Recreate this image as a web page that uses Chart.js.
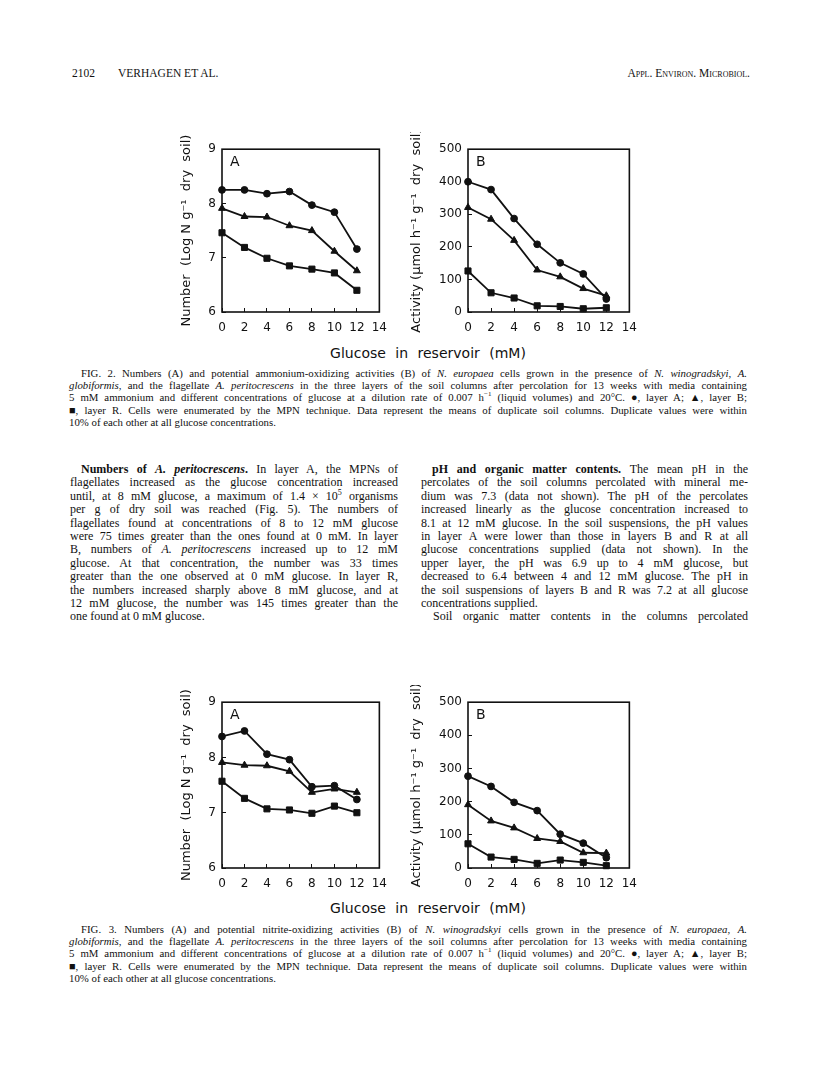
<!DOCTYPE html>
<html lang="en">
<head>
<meta charset="UTF-8">
<title>Verhagen et al. - Fig. 2 and Fig. 3</title>
<script src="https://cdn.jsdelivr.net/npm/chart.js@4.4.0/dist/chart.umd.min.js"></script>
<style>
    html, body { margin: 0; padding: 0; background: #fff; }
    body { width: 816px; height: 1077px; position: relative; overflow: hidden; color: #111; }
    .abs { position: absolute; }
    .serif { font-family: 'Liberation Serif', 'Times New Roman', serif; }
    .hdr { font-size: 11.5px; line-height: 14px; top: 66px; white-space: nowrap; }
    .cap { left: 69px; width: 678px; font-size: 10.8px; line-height: 12.2px; }
    .cap .ln { height: 12.2px; }
    .col { width: 328px; font-size: 12px; line-height: 13.4px; top: 463px; }
    .col .ln { height: 13.4px; }
    .ln { white-space: nowrap; }
    sup { line-height: 0; }
    .glu { left: 228px; width: 400px; text-align: center; font-family: 'DejaVu Sans', sans-serif;
           font-size: 14px; line-height: 18px; word-spacing: 5px; color: #111; }
    canvas { position: absolute; }
</style>
</head>
<body>
    <!-- running head -->
    <div class="abs serif hdr" style="left:72px">2102</div>
    <div class="abs serif hdr" style="left:118px">VERHAGEN ET AL.</div>
    <div class="abs serif hdr" style="right:66px; font-variant: small-caps">Appl. Environ. Microbiol.</div>

    <!-- fig 2 -->
    <canvas id="f2a" width="240" height="210" style="left:160px; top:132px"></canvas>
    <canvas id="f2b" width="250" height="210" style="left:400px; top:132px"></canvas>
    <div class="abs glu" style="top:344px">Glucose in reservoir (mM)</div>

    <div class="abs serif cap" style="top:367px">
        <div class="ln j" style="padding-left:12px"><span>FIG. 2. Numbers (A) and potential ammonium-oxidizing activities (B) of <i>N. europaea</i> cells grown in the presence of <i>N. winogradskyi</i>, <i>A.</i></span></div>
        <div class="ln j"><span><i>globiformis</i>, and the flagellate <i>A. peritocrescens</i> in the three layers of the soil columns after percolation for 13 weeks with media containing</span></div>
        <div class="ln j"><span>5 mM ammonium and different concentrations of glucose at a dilution rate of 0.007 h<sup style="font-size:7px">−1</sup> (liquid volumes) and 20°C. ●, layer A; ▲, layer B;</span></div>
        <div class="ln j"><span>■, layer R. Cells were enumerated by the MPN technique. Data represent the means of duplicate soil columns. Duplicate values were within</span></div>
        <div class="ln"><span>10% of each other at all glucose concentrations.</span></div>
    </div>

    <!-- texto en dos columnas -->
    <div class="abs serif col" style="left:70px">
        <div class="ln j" style="padding-left:11px"><span><b>Numbers of <i>A. peritocrescens</i>.</b> In layer A, the MPNs of</span></div>
        <div class="ln j"><span>flagellates increased as the glucose concentration increased</span></div>
        <div class="ln j"><span>until, at 8 mM glucose, a maximum of 1.4 × 10<sup style="font-size:8px">5</sup> organisms</span></div>
        <div class="ln j"><span>per g of dry soil was reached (Fig. 5). The numbers of</span></div>
        <div class="ln j"><span>flagellates found at concentrations of 8 to 12 mM glucose</span></div>
        <div class="ln j"><span>were 75 times greater than the ones found at 0 mM. In layer</span></div>
        <div class="ln j"><span>B, numbers of <i>A. peritocrescens</i> increased up to 12 mM</span></div>
        <div class="ln j"><span>glucose. At that concentration, the number was 33 times</span></div>
        <div class="ln j"><span>greater than the one observed at 0 mM glucose. In layer R,</span></div>
        <div class="ln j"><span>the numbers increased sharply above 8 mM glucose, and at</span></div>
        <div class="ln j"><span>12 mM glucose, the number was 145 times greater than the</span></div>
        <div class="ln"><span>one found at 0 mM glucose.</span></div>
    </div>
    <div class="abs serif col" style="left:421px; width:327px">
        <div class="ln j" style="padding-left:11px"><span><b>pH and organic matter contents.</b> The mean pH in the</span></div>
        <div class="ln j"><span>percolates of the soil columns percolated with mineral me-</span></div>
        <div class="ln j"><span>dium was 7.3 (data not shown). The pH of the percolates</span></div>
        <div class="ln j"><span>increased linearly as the glucose concentration increased to</span></div>
        <div class="ln j"><span>8.1 at 12 mM glucose. In the soil suspensions, the pH values</span></div>
        <div class="ln j"><span>in layer A were lower than those in layers B and R at all</span></div>
        <div class="ln j"><span>glucose concentrations supplied (data not shown). In the</span></div>
        <div class="ln j"><span>upper layer, the pH was 6.9 up to 4 mM glucose, but</span></div>
        <div class="ln j"><span>decreased to 6.4 between 4 and 12 mM glucose. The pH in</span></div>
        <div class="ln j"><span>the soil suspensions of layers B and R was 7.2 at all glucose</span></div>
        <div class="ln"><span>concentrations supplied.</span></div>
        <div class="ln j" style="padding-left:12px"><span>Soil organic matter contents in the columns percolated</span></div>
    </div>

    <!-- fig 3 -->
    <canvas id="f3a" width="240" height="213" style="left:160px; top:685px"></canvas>
    <canvas id="f3b" width="250" height="213" style="left:400px; top:685px"></canvas>
    <div class="abs glu" style="top:899px">Glucose in reservoir (mM)</div>

    <div class="abs serif cap" style="top:923px">
        <div class="ln j" style="padding-left:12px"><span>FIG. 3. Numbers (A) and potential nitrite-oxidizing activities (B) of <i>N. winogradskyi</i> cells grown in the presence of <i>N. europaea</i>, <i>A.</i></span></div>
        <div class="ln j"><span><i>globiformis</i>, and the flagellate <i>A. peritocrescens</i> in the three layers of the soil columns after percolation for 13 weeks with media containing</span></div>
        <div class="ln j"><span>5 mM ammonium and different concentrations of glucose at a dilution rate of 0.007 h<sup style="font-size:7px">−1</sup> (liquid volumes) and 20°C. ●, layer A; ▲, layer B;</span></div>
        <div class="ln j"><span>■, layer R. Cells were enumerated by the MPN technique. Data represent the means of duplicate soil columns. Duplicate values were within</span></div>
        <div class="ln"><span>10% of each other at all glucose concentrations.</span></div>
    </div>

    <script>
        // datos
        const glucose = [0, 2, 4, 6, 8, 10, 12];
        const xTicks = [0, 2, 4, 6, 8, 10, 12, 14];
        const numTicks = [6, 7, 8, 9];
        const actTicks = [0, 100, 200, 300, 400, 500];
        const layers = ['Layer A', 'Layer B', 'Layer R'];

        // Fig. 2 - N. europaea
        const fig2NumA = [8.25, 8.25, 8.18, 8.22, 7.97, 7.84, 7.16];
        const fig2NumB = [7.91, 7.76, 7.75, 7.59, 7.50, 7.12, 6.76];
        const fig2NumR = [7.46, 7.19, 6.99, 6.85, 6.79, 6.72, 6.40];
        const fig2ActA = [400, 376, 287, 208, 151, 117, 40];
        const fig2ActB = [321, 285, 220, 129, 108, 72, 50];
        const fig2ActR = [126, 59, 43, 19, 17, 10, 13];

        // Fig. 3 - N. winogradskyi
        const fig3NumA = [8.38, 8.48, 8.06, 7.96, 7.47, 7.49, 7.24];
        const fig3NumB = [7.91, 7.86, 7.85, 7.75, 7.37, 7.43, 7.37];
        const fig3NumR = [7.57, 7.26, 7.07, 7.05, 6.99, 7.12, 7.00];
        const fig3ActA = [277, 246, 198, 173, 102, 75, 31];
        const fig3ActB = [191, 142, 121, 89, 80, 46, 45];
        const fig3ActR = [73, 33, 26, 14, 24, 17, 7];

        const ink = '#111';
        const tickFont = { family: 'DejaVu Sans', size: 12 };

        // marco completo y letra del panel
        const framePlugin = letter => ({
            id: 'frame',
            afterDraw(chart) {
                const { ctx, chartArea: a } = chart;
                ctx.save();
                ctx.strokeStyle = ink;
                ctx.lineWidth = 1.6;
                ctx.strokeRect(a.left, a.top, a.right - a.left, a.bottom - a.top);
                ctx.fillStyle = ink;
                ctx.font = '14px "DejaVu Sans"';
                ctx.textBaseline = 'top';
                ctx.fillText(letter, a.left + 8, a.top + 6);
                ctx.restore();
            }
        });

        function panel(id, letter, yTitle, yTicks, yMin, yMax, series, yWidth, titleGap) {
            const styles = ['circle', 'triangle', 'rect'];
            const radii = [3.4, 4, 4.3];
            new Chart(document.getElementById(id), {
                type: 'line',
                data: {
                    datasets: series.map((vals, i) => ({
                        label: layers[i],
                        data: glucose.map((g, k) => ({ x: g, y: vals[k] })),
                        borderColor: ink,
                        backgroundColor: ink,
                        borderWidth: 1.8,
                        pointStyle: styles[i],
                        pointRadius: radii[i],
                        pointBackgroundColor: ink,
                        pointBorderColor: ink,
                        pointBorderWidth: 1,
                        tension: 0,
                        fill: false,
                        clip: false
                    }))
                },
                options: {
                    responsive: false,
                    animation: false,
                    events: [],
                    layout: { padding: { left: 0, right: 14, top: 10, bottom: 0 } },
                    plugins: { legend: { display: false }, tooltip: { enabled: false } },
                    scales: {
                        x: {
                            type: 'linear',
                            min: 0,
                            max: 14,
                            afterBuildTicks: s => { s.ticks = xTicks.map(v => ({ value: v })); },
                            afterFit: s => { s.height = 30; },
                            grid: { display: true, drawOnChartArea: false, drawTicks: true, tickLength: -4, color: ink, lineWidth: 1 },
                            border: { display: false },
                            ticks: { color: ink, font: tickFont, padding: 13, maxRotation: 0, autoSkip: false }
                        },
                        y: {
                            type: 'linear',
                            min: yMin,
                            max: yMax,
                            afterBuildTicks: s => { s.ticks = yTicks.map(v => ({ value: v })); },
                            afterFit: s => { s.width = yWidth; },
                            grid: { display: true, drawOnChartArea: false, drawTicks: true, tickLength: -4, color: ink, lineWidth: 1 },
                            border: { display: false },
                            ticks: { color: ink, font: tickFont, padding: 10, autoSkip: false },
                            title: {
                                display: true,
                                text: yTitle,
                                color: ink,
                                font: { family: 'DejaVu Sans', size: 13 },
                                padding: { top: titleGap, bottom: 0 }
                            }
                        }
                    }
                },
                plugins: [framePlugin(letter)]
            });
        }

        const numTitle = 'Number  (Log N g⁻¹  dry  soil)';
        const actTitle = 'Activity (μmol h⁻¹ g⁻¹  dry  soil)';

        panel('f2a', 'A', numTitle, numTicks, 6, 9, [fig2NumA, fig2NumB, fig2NumR], 62, 19);
        panel('f2b', 'B', actTitle, actTicks, 0, 500, [fig2ActA, fig2ActB, fig2ActR], 68, 9);
        panel('f3a', 'A', numTitle, numTicks, 6, 9, [fig3NumA, fig3NumB, fig3NumR], 62, 19);
        panel('f3b', 'B', actTitle, actTicks, 0, 500, [fig3ActA, fig3ActB, fig3ActR], 68, 9);

        // justificar cada linea al ancho de su columna
        document.querySelectorAll('.j').forEach(el => {
            const span = el.querySelector('span');
            const cs = getComputedStyle(el);
            const target = el.clientWidth - parseFloat(cs.paddingLeft) - parseFloat(cs.paddingRight);
            const w = span.getBoundingClientRect().width;
            const txt = span.textContent;
            const spaces = (txt.match(/ /g) || []).length;
            if (w > target) {
                span.style.letterSpacing = ((target - w) / txt.length) + 'px';
            } else if (spaces) {
                span.style.wordSpacing = ((target - w) / spaces) + 'px';
            }
        });
    </script>
</body>
</html>
